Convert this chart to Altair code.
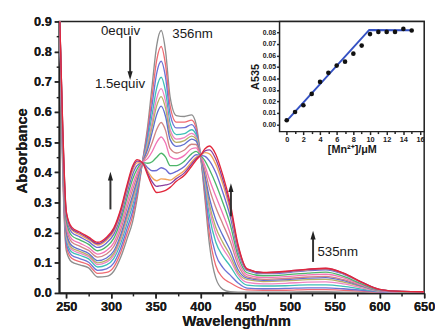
import altair as alt
import pandas as pd

# ---------------- main spectra ----------------
wavelength = [242, 246, 250, 256, 265, 275, 285, 295, 303, 311, 318, 324, 329, 335, 341,
              346, 351, 356, 361, 366, 373, 382, 390, 395, 400, 405, 410, 417, 425, 433,
              442, 452, 470, 495, 520, 540, 560, 580, 600, 625, 650]

c00 = [.98, .400, .140, .103, .093, .083, .053, .055, .072, .120, .180, .235, .310, .432, .555, .690, .820, .870, .800, .650, .588, .585, .590, .560, .456, .310, .160, .050, .012, .004, .003, .003, .003, .003, .004, .004, .003, .003, .002, .002, .002]
c01 = [.98, .415, .153, .115, .104, .093, .065, .068, .086, .136, .198, .254, .323, .432, .539, .657, .771, .817, .754, .620, .566, .566, .573, .548, .456, .327, .193, .091, .050, .034, .019, .010, .009, .009, .011, .011, .009, .006, .003, .002, .002]
c02 = [.98, .429, .165, .125, .114, .102, .075, .080, .099, .150, .214, .270, .335, .432, .524, .626, .728, .768, .713, .593, .547, .548, .558, .537, .456, .342, .222, .128, .084, .060, .033, .016, .014, .015, .017, .017, .014, .009, .004, .003, .002]
c03 = [.98, .444, .178, .136, .125, .113, .086, .093, .114, .166, .232, .289, .348, .432, .507, .593, .679, .715, .667, .563, .525, .528, .541, .525, .456, .359, .255, .169, .122, .090, .049, .026, .023, .024, .027, .027, .022, .013, .005, .003, .003]
c04 = [.98, .454, .187, .144, .132, .120, .094, .102, .124, .178, .245, .302, .358, .432, .496, .569, .645, .677, .634, .542, .510, .515, .529, .517, .456, .371, .278, .198, .148, .111, .060, .035, .030, .032, .036, .037, .030, .017, .006, .003, .003]
c05 = [.98, .462, .193, .150, .138, .125, .100, .108, .131, .186, .254, .311, .364, .432, .487, .553, .620, .651, .611, .527, .499, .505, .520, .511, .456, .379, .294, .218, .167, .125, .067, .044, .038, .040, .044, .045, .036, .021, .007, .004, .003]
c06 = [.98, .471, .201, .157, .144, .131, .107, .116, .139, .195, .265, .322, .372, .432, .477, .533, .591, .619, .584, .509, .486, .493, .510, .504, .456, .389, .314, .243, .190, .143, .077, .049, .042, .044, .049, .051, .041, .023, .008, .004, .003]
c07 = [.98, .486, .214, .169, .155, .141, .119, .129, .154, .211, .283, .341, .385, .432, .461, .499, .542, .565, .538, .479, .464, .474, .493, .492, .456, .406, .346, .284, .228, .173, .093, .053, .045, .048, .053, .055, .044, .025, .009, .004, .003]
c08 = [.98, .499, .226, .179, .165, .150, .129, .141, .166, .226, .299, .357, .397, .432, .446, .469, .499, .517, .496, .452, .444, .456, .478, .481, .456, .421, .376, .321, .262, .199, .107, .060, .051, .054, .060, .062, .050, .027, .009, .004, .003]
c09 = [.98, .514, .239, .190, .176, .161, .140, .154, .181, .242, .317, .376, .410, .432, .430, .435, .450, .463, .450, .422, .422, .437, .461, .469, .456, .438, .409, .362, .299, .229, .122, .067, .057, .060, .066, .069, .055, .030, .010, .004, .004]
c10 = [.98, .528, .251, .201, .186, .170, .151, .166, .194, .256, .333, .392, .422, .432, .415, .405, .406, .415, .409, .395, .403, .419, .446, .458, .456, .453, .438, .399, .333, .256, .137, .075, .064, .067, .074, .077, .062, .034, .011, .005, .004]
c11 = [.98, .538, .260, .209, .193, .177, .159, .175, .204, .267, .346, .405, .431, .432, .403, .382, .372, .378, .377, .374, .387, .406, .434, .450, .456, .465, .461, .427, .360, .276, .147, .078, .066, .070, .077, .080, .064, .035, .012, .005, .004]
c12 = [.98, .544, .265, .213, .198, .181, .163, .180, .209, .274, .353, .413, .437, .432, .397, .368, .353, .356, .358, .362, .379, .398, .427, .445, .456, .471, .474, .444, .375, .288, .154, .079, .067, .071, .078, .081, .065, .036, .012, .005, .004]
c13 = [.98, .550, .270, .218, .202, .185, .168, .185, .215, .280, .360, .420, .442, .432, .390, .355, .333, .335, .340, .350, .370, .390, .420, .440, .456, .478, .487, .460, .390, .300, .160, .080, .068, .072, .079, .082, .066, .036, .012, .005, .004]

curve_names = ["c00", "c01", "c02", "c03", "c04", "c05", "c06", "c07", "c08", "c09", "c10", "c11", "c12", "c13"]
curve_colors = ["#8e8e8e", "#f06b72", "#6d72d6", "#3fbfb6", "#ee84c4", "#b7b066", "#5f6fce",
                "#cf8584", "#f274b6", "#4db56a", "#6b6ad2", "#f2a35a", "#8b3f9e", "#e2263a"]
spectra = [c00, c01, c02, c03, c04, c05, c06, c07, c08, c09, c10, c11, c12, c13]

# ---------------- annotations ----------------
arrow_wl = [321.3, 299.3, 434.0, 525.8]
arrow_base = [0.851, 0.277, 0.254, 0.103]
arrow_neck = [0.730, 0.382, 0.344, 0.186]
arrow_tip = [0.706, 0.402, 0.364, 0.206]
arrow_dir = ["down", "up", "up", "up"]

note_text = ["0equiv", "1.5equiv", "356nm", "535nm"]
note_wl = [310.6, 310.0, 368.5, 530.7]
note_a = [0.868, 0.694, 0.858, 0.134]
note_align = ["center", "center", "left", "left"]

# ---------------- axis ticks ----------------
x_major = [250, 300, 350, 400, 450, 500, 550, 600, 650]
x_minor = [275, 325, 375, 425, 475, 525, 575, 625]
y_major = [0.0, 0.1, 0.2, 0.3, 0.4, 0.5, 0.6, 0.7, 0.8, 0.9]
y_minor = [0.05, 0.15, 0.25, 0.35, 0.45, 0.55, 0.65, 0.75, 0.85]

# ---------------- inset ----------------
conc = [0, 1, 2, 3, 4, 5, 6, 7, 8, 9, 10, 11, 12, 13, 14, 15]
a535 = [0.0037, 0.0108, 0.0167, 0.0266, 0.0370, 0.0449, 0.0512, 0.0546, 0.0616, 0.0686,
        0.0786, 0.0805, 0.0805, 0.0805, 0.0831, 0.0817]
fit_conc = [0, 9.9, 14.8]
fit_a535 = [0.0031, 0.0822, 0.0820]
inset_x_ticks = [0, 2, 4, 6, 8, 10, 12, 14, 16]
inset_x_minor = [1, 3, 5, 7, 9, 11, 13, 15]
inset_y_ticks = [0, 0.01, 0.02, 0.03, 0.04, 0.05, 0.06, 0.07, 0.08]

FONT = "Liberation Sans"
INK = "#1a1a1a"

rows = []
for name, vals in zip(curve_names, spectra):
    for w, a in zip(wavelength, vals):
        rows.append({"wl": w, "a": a, "curve": name})
spec_df = pd.DataFrame(rows)

shaft_df = pd.DataFrame({"wl": arrow_wl, "a": arrow_base, "a2": arrow_neck})
head_df = pd.DataFrame({"wl": arrow_wl, "a": arrow_tip, "dir": arrow_dir})
note_df = pd.DataFrame({"wl": note_wl, "a": note_a, "txt": note_text, "al": note_align})
minor_y_df = pd.DataFrame({"wl": [300] * len(y_minor), "a": y_minor})
minor_x_df = pd.DataFrame({"wl": x_minor, "a": [0.5] * len(x_minor)})

XS = alt.Scale(domain=[242, 650], nice=False, zero=False)
YS = alt.Scale(domain=[0, 0.9], nice=False, zero=False)

X = alt.X("wl:Q", scale=XS,
          axis=alt.Axis(values=x_major, title="Wavelength/nm", orient="bottom",
                        tickSize=5, labelFontSize=13, labelPadding=3, titlePadding=0,
                        titleFontSize=15, titleX=180, labelFlush=False, labelOverlap=False))
Y = alt.Y("a:Q", scale=YS,
          axis=alt.Axis(values=y_major, title="Absorbance", format=".1f", orient="left",
                        tickSize=5, labelFontSize=13, labelPadding=3, titlePadding=4,
                        titleFontSize=15, titleY=131, labelFlush=False, labelOverlap=False))
X_minor = alt.X("wl:Q", scale=XS,
                axis=alt.Axis(values=x_minor, orient="bottom", labels=False, domain=False,
                              tickSize=3, title=None))
Y_minor = alt.Y("a:Q", scale=YS,
                axis=alt.Axis(values=y_minor, orient="left", labels=False, domain=False,
                              tickSize=3, title=None))

lines = alt.Chart(spec_df).mark_line(strokeWidth=1.35, clip=True, interpolate="monotone").encode(
    x=X, y=Y,
    color=alt.Color("curve:N", scale=alt.Scale(domain=curve_names, range=curve_colors), legend=None),
    order=alt.Order("wl:Q"),
)

shafts = alt.Chart(shaft_df).mark_rule(color="#333333", strokeWidth=2).encode(
    x=X, y=Y, y2="a2:Q")
heads_up = alt.Chart(head_df).transform_filter("datum.dir === 'up'").mark_point(
    shape="M0,0L0.5,1.7L-0.5,1.7Z", filled=True, color="#222222", size=110, opacity=1
).encode(x=X, y=Y)
heads_down = alt.Chart(head_df).transform_filter("datum.dir === 'down'").mark_point(
    shape="M0,0L0.5,-1.7L-0.5,-1.7Z", filled=True, color="#222222", size=110, opacity=1
).encode(x=X, y=Y)

notes_c = alt.Chart(note_df).transform_filter("datum.al === 'center'").mark_text(
    font=FONT, fontSize=13.5, color=INK, align="center", baseline="middle"
).encode(x=X, y=Y, text="txt:N")
notes_l = alt.Chart(note_df).transform_filter("datum.al === 'left'").mark_text(
    font=FONT, fontSize=13.5, color=INK, align="left", baseline="middle"
).encode(x=X, y=Y, text="txt:N")

minor_y = alt.Chart(minor_y_df).mark_point(opacity=0).encode(x=X, y=Y_minor)
minor_x = alt.Chart(minor_x_df).mark_point(opacity=0).encode(x=X_minor, y=Y)

main_plot = alt.layer(lines, shafts, heads_up, heads_down, notes_c, notes_l)
main = alt.layer(main_plot, minor_y, minor_x).resolve_axis(x="independent", y="independent")

# inset
frame_df = pd.DataFrame({"conc": [-0.86], "c2": [16.5], "a535": [-0.0062], "y2": [0.0896]})
pts_df = pd.DataFrame({"conc": conc, "a535": a535})
fit_df = pd.DataFrame({"conc": fit_conc, "a535": fit_a535})
inset_minor_df = pd.DataFrame({"conc": inset_x_minor, "a535": [0.04] * len(inset_x_minor)})

IXS = alt.Scale(domain=[-0.86, 16.5], range=[224, 371], nice=False, zero=False)
IYS = alt.Scale(domain=[-0.0062, 0.0896], range=[112, 0], nice=False, zero=False)
IX = alt.X("conc:Q", scale=IXS,
           axis=alt.Axis(orient="bottom", offset=-164, values=inset_x_ticks, title="[Mn²⁺]/μM",
                         tickSize=3, labelFontSize=7.5, labelPadding=1, titleFontSize=11,
                         titlePadding=1, domain=False, labelFlush=False, labelOverlap=False))
IX_minor = alt.X("conc:Q", scale=IXS,
                 axis=alt.Axis(orient="bottom", offset=-164, values=inset_x_minor, labels=False,
                               domain=False, tickSize=2, title=None))
IY = alt.Y("a535:Q", scale=IYS,
           axis=alt.Axis(orient="left", offset=-224, values=inset_y_ticks,
                         format=".2f", title="A535", tickSize=3, labelFontSize=7, labelPadding=1,
                         titleFontSize=11, titlePadding=2, domain=False, labelFlush=False,
                         labelOverlap=False))

frame = alt.Chart(frame_df).mark_rect(fill="white", stroke="#222222", strokeWidth=1.5).encode(
    x=IX, x2="c2:Q", y=IY, y2="y2:Q")
fit = alt.Chart(fit_df).mark_line(color="#3552c4", strokeWidth=2).encode(x=IX, y=IY)
pts = alt.Chart(pts_df).mark_circle(color="#111111", size=22, opacity=1).encode(x=IX, y=IY)
inset_minor = alt.Chart(inset_minor_df).mark_point(opacity=0).encode(x=IX_minor, y=IY)

inset_plot = alt.layer(frame, fit, pts)
inset = alt.layer(inset_plot, inset_minor).resolve_axis(x="independent")

chart = alt.layer(main, inset).resolve_scale(x="independent", y="independent").properties(
    width=371, height=276,
    autosize=alt.AutoSizeParams(type="none"),
    padding={"left": 52, "top": 11, "right": 11, "bottom": 35},
    background="white",
).configure_view(stroke="#222222", strokeWidth=1.5).configure_axis(
    labelFont=FONT, titleFont=FONT, labelFontWeight="bold", titleFontWeight="bold",
    labelColor=INK, titleColor=INK, domainColor="#222222", domainWidth=1.5,
    tickColor="#222222", tickWidth=1.5, grid=False,
)

chart.save("out.html", embed_options={"renderer": "svg", "actions": False})
